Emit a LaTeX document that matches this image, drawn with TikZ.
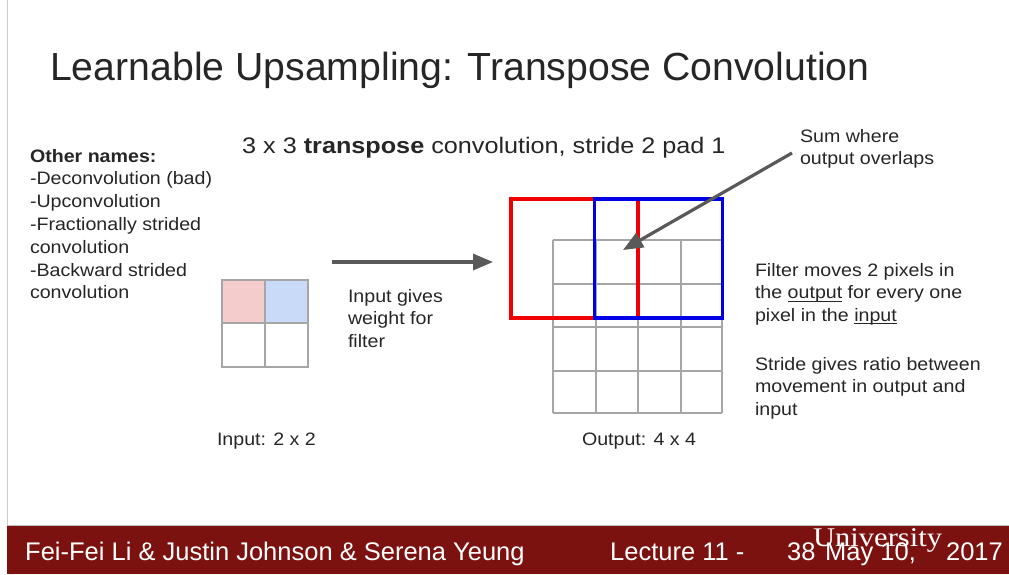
\documentclass[tikz,border=0pt]{standalone}
\usepackage{fontspec}
\setmainfont{Liberation Sans}
\newfontfamily\bodyfont[FakeStretch=1.09]{Liberation Sans}
\newfontfamily\subfont[FakeStretch=1.12]{Liberation Sans}
\newfontfamily\uniserif[FakeStretch=1.13]{Liberation Serif}
\newcommand\lowul[1]{\setbox0\hbox{#1}\rlap{\rule[-2.6pt]{\wd0}{0.9pt}}\box0\relax}
\usetikzlibrary{arrows.meta}
\definecolor{footred}{HTML}{7C1210}
\definecolor{gridgray}{HTML}{A6A6A6}
\definecolor{arrowgray}{HTML}{595959}
\definecolor{cellpink}{HTML}{F4CCCC}
\definecolor{cellblue}{HTML}{C9DAF8}
\definecolor{boxred}{HTML}{F00000}
\definecolor{boxblue}{HTML}{0000E6}
\definecolor{txtcol}{HTML}{262626}
\begin{document}
\begin{tikzpicture}[x=1pt,y=-1pt,
  body/.style={anchor=base west,inner sep=0pt,outer sep=0pt,text=txtcol,align=left,
    font=\bodyfont\fontsize{18}{22.8}\selectfont},
  gridline/.style={draw=gridgray,line width=1.2pt},
  bigarrow/.style={draw=arrowgray,line width=3.2pt,-{Triangle[length=20pt,width=16pt]}},
  frame/.style={line width=3.2pt},
  foot/.style={anchor=base west,inner sep=0pt,text=white,font=\fontsize{25.5}{30}\selectfont}]
\useasboundingbox (0,0) rectangle (1009,574);
\fill[white] (0,0) rectangle (1009,574);
\draw[gray!40,line width=1pt] (7.5,0) -- (7.5,526);
% footer
\fill[footred] (7,526) rectangle (1009,574);
\draw[gray!50,line width=1pt] (7,525.5) -- (1009,525.5);
\node[foot] (authors) at (25,560) {Fei-Fei Li \& Justin Johnson \& Serena Yeung};
\node[foot] (lecture) at (610,560) {Lecture 11 -};
\node[foot] (page) at (787,560) {38};
\node[foot] (date) at (825,560) {May 10,};
\node[foot,anchor=base east] (year) at (1003,560) {2017};
\node[foot,font=\uniserif\fontsize{27}{30}\selectfont] (univ) at (813,546) {University};
% title
\node[anchor=base west,inner sep=0pt,text=txtcol,font=\fontsize{39.2}{44}\selectfont] (title) at (50,80) {Learnable Upsampling: Transpose Convolution};
\node[anchor=base west,inner sep=0pt,text=txtcol,font=\subfont\fontsize{22.5}{26}\selectfont] (sub) at (242,153) {3 x 3 \textbf{transpose} convolution, stride 2 pad 1};
% left list (anchor = baseline of last line)
\node[body] (names) at (30,298.8) {\textbf{Other names:}\\-Deconvolution (bad)\\-Upconvolution\\-Fractionally strided\\convolution\\-Backward strided\\convolution};
% input grid
\fill[cellpink] (222,280) rectangle (265,323);
\fill[cellblue] (265,280) rectangle (308,323);
\draw[gridline] (222,280) rectangle (308,367);
\draw[gridline] (265,280) -- (265,367);
\draw[gridline] (222,323) -- (308,323);
\node[body] (gives) at (348,347.6) {Input gives\\weight for\\filter};
\node[body] (inlabel) at (217,445) {Input: 2 x 2};
% output grid
\foreach \x in {553,596,638,681,722} \draw[gridline] (\x,240) -- (\x,413);
\foreach \y in {240,284,327,371,413} \draw[gridline] (553,\y) -- (722,\y);
\node[body] (outlabel) at (582,445) {Output: 4 x 4};
% filter boxes
\draw[frame,boxred] (511,199) rectangle (638,318);
\draw[frame,boxblue] (594.5,199) rectangle (722.5,318);
% arrows
\coordinate (a1) at (332,262);
\coordinate (a2) at (493,262);
\draw[bigarrow] (a1) -- (a2);
\node[body] (sum) at (800,164.8) {Sum where\\output overlaps};
\coordinate (s1) at (792,153);
\coordinate (s2) at (623,250);
\draw[bigarrow] (s1) -- (s2);
% right text
\node[body] (filt) at (755,321.6) {Filter moves 2 pixels in\\the \lowul{output} for every one\\pixel in the \lowul{input}};
\node[body] (stride) at (755,415.6) {Stride gives ratio between\\movement in output and\\input};
\end{tikzpicture}
\end{document}
